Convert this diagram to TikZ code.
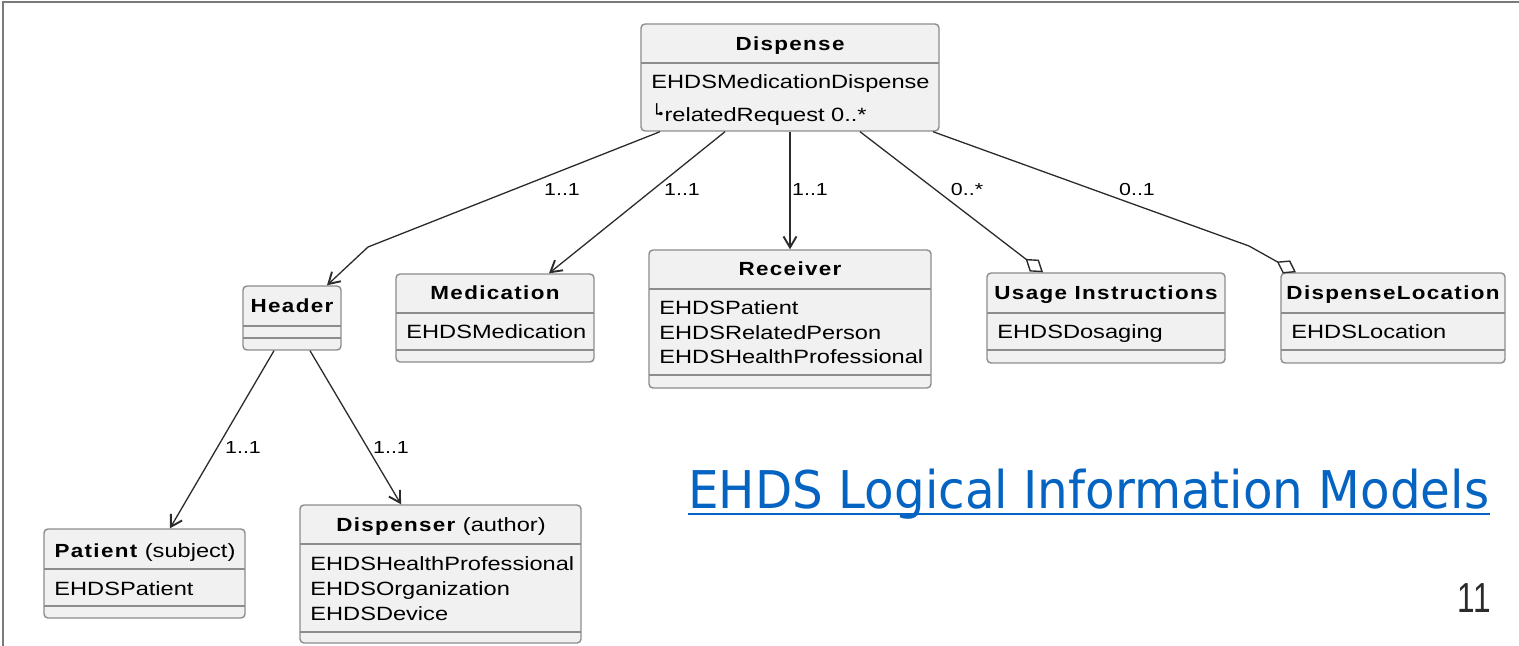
\documentclass[tikz,border=0pt]{standalone}
\usepackage{fontspec}
\setmainfont{Liberation Sans}
\newfontfamily\cls[FakeStretch=1.23]{Liberation Sans}
\newfontfamily\clsb[FakeStretch=1.18,LetterSpace=7]{Liberation Sans}
\newfontfamily\djv{DejaVu Sans}
\newfontfamily\ttl[FakeStretch=0.93]{DejaVu Sans}
\newfontfamily\pg[FakeStretch=0.75]{Liberation Sans}
\usetikzlibrary{arrows.meta,fit,calc}
\definecolor{boxfill}{HTML}{F1F1F1}
\definecolor{boxline}{HTML}{8C8C8C}
\definecolor{conn}{HTML}{2B2B2B}
\definecolor{linkblue}{HTML}{0563C1}
\definecolor{framec}{HTML}{7A7A7A}
\begin{document}
\begin{tikzpicture}[x=0.5pt,y=-0.5pt,
  box/.style={draw=boxline, line width=0.7pt, fill=boxfill, rounded corners=2pt, inner sep=0pt},
  sepline/.style={draw=boxline, line width=0.7pt},
  ttext/.style={anchor=base, inner sep=0pt, font=\clsb\bfseries\fontsize{9.5pt}{11pt}\selectfont},
  mtext/.style={anchor=base west, inner sep=0pt, font=\cls\fontsize{9.6pt}{11pt}\selectfont},
  mult/.style={anchor=base, inner sep=0pt, font=\cls\fontsize{8.7pt}{10pt}\selectfont},
  assoc/.style={draw=conn, line width=0.65pt, -{Straight Barb[length=5.5pt,width=6.5pt,line width=0.95pt]}},
  aggr/.style={draw=conn, line width=0.65pt, -{Diamond[open,length=11pt,width=7.5pt,line width=0.7pt]}},
]
\useasboundingbox (0,0) rectangle (1519,646);
\draw[framec, line width=1pt] (3,646) -- (3,2) -- (1519,2);

% Dispense
\node[box, fit={(641,24) (939,131)}] (dispense) {};
\draw[sepline] (641,63) -- (939,63);
\node[ttext] (dispenseT) at (790,51) {Dispense};
\node[mtext] (dispenseM1) at (651,89) {EHDSMedicationDispense};
\node[mtext] (dispenseM2) at (651,122) {\raisebox{0.6pt}{\djv\fontsize{9pt}{10pt}\selectfont └}\kern-2.4pt\raisebox{1.9pt}{\djv\fontsize{6pt}{7pt}\selectfont •}relatedRequest 0..*};

% Header
\node[box, fit={(243,286) (341,350)}] (header) {};
\draw[sepline] (243,326) -- (341,326);
\draw[sepline] (243,338) -- (341,338);
\node[ttext] (headerT) at (292,313) {Header};

% Medication
\node[box, fit={(396,274) (594,362)}] (medication) {};
\draw[sepline] (396,313) -- (594,313);
\draw[sepline] (396,350) -- (594,350);
\node[ttext] (medicationT) at (495,300) {Medication};
\node[mtext] (medicationM1) at (406,339) {EHDSMedication};

% Receiver
\node[box, fit={(649,250) (931,388)}] (receiver) {};
\draw[sepline] (649,289) -- (931,289);
\draw[sepline] (649,375) -- (931,375);
\node[ttext] (receiverT) at (790,276) {Receiver};
\node[mtext] (receiverM1) at (659,315) {EHDSPatient};
\node[mtext] (receiverM2) at (659,340) {EHDSRelatedPerson};
\node[mtext] (receiverM3) at (659,364) {EHDSHealthProfessional};

% Usage Instructions
\node[box, fit={(987,273) (1225,363)}] (usage) {};
\draw[sepline] (987,313) -- (1225,313);
\draw[sepline] (987,350) -- (1225,350);
\node[ttext] (usageT) at (1106,300) {Usage Instructions};
\node[mtext] (usageM1) at (997,339) {EHDSDosaging};

% DispenseLocation
\node[box, fit={(1281,273) (1505,363)}] (location) {};
\draw[sepline] (1281,313) -- (1505,313);
\draw[sepline] (1281,350) -- (1505,350);
\node[ttext] (locationT) at (1393,300) {DispenseLocation};
\node[mtext] (locationM1) at (1291,339) {EHDSLocation};

% Patient
\node[box, fit={(44,529) (245,618)}] (patient) {};
\draw[sepline] (44,569) -- (245,569);
\draw[sepline] (44,606) -- (245,606);
\node[ttext] (patientT) at (145,557) {Patient {\cls\mdseries\fontsize{9.6pt}{11pt}\selectfont (subject)}};
\node[mtext] (patientM1) at (54,595) {EHDSPatient};

% Dispenser
\node[box, fit={(300,505) (581,643)}] (dispenser) {};
\draw[sepline] (300,544) -- (581,544);
\draw[sepline] (300,632) -- (581,632);
\node[ttext] (dispenserT) at (441,531) {Dispenser {\cls\mdseries\fontsize{9.6pt}{11pt}\selectfont (author)}};
\node[mtext] (dispenserM1) at (310,570) {EHDSHealthProfessional};
\node[mtext] (dispenserM2) at (310,595) {EHDSOrganization};
\node[mtext] (dispenserM3) at (310,620) {EHDSDevice};

% connectors
\coordinate (bendH) at (368,247);
\coordinate (bendL) at (1249,246);
\draw[assoc] (660,0 |- dispense.south) -- (bendH) -- (327,0 |- header.north);
\draw[assoc] (725,0 |- dispense.south) -- (549,0 |- medication.north);
\draw[assoc] (790,0 |- dispense.south) -- (790,0 |- receiver.north);
\draw[aggr] (860,0 |- dispense.south) -- (1043,0 |- usage.north);
\draw[aggr] (933,0 |- dispense.south) -- (bendL) -- (1296,0 |- location.north);
\draw[assoc] (274,0 |- header.south) -- (170,0 |- patient.north);
\draw[assoc] (310,0 |- header.south) -- (401,0 |- dispenser.north);

\node[mult] (m1) at (562,196) {1..1};
\node[mult] (m2) at (682,196) {1..1};
\node[mult] (m3) at (810,196) {1..1};
\node[mult] (m4) at (967,196) {0..*};
\node[mult] (m5) at (1137,196) {0..1};
\node[mult] (m6) at (243,453) {1..1};
\node[mult] (m7) at (391,453) {1..1};

% title and page number
\node[anchor=base west, inner sep=0pt, font=\ttl\fontsize{26pt}{30pt}\selectfont, text=linkblue] (title) at (688,508) {EHDS Logical Information Models};
\draw[linkblue, line width=1pt] ($(title.base west)+(0,6)$) -- ($(title.base east)+(0,6)$);
\node[anchor=base east, inner sep=0pt, font=\pg\fontsize{21pt}{24pt}\selectfont, text=conn] (pnum) at (1491,612) {11};
\end{tikzpicture}
\end{document}
